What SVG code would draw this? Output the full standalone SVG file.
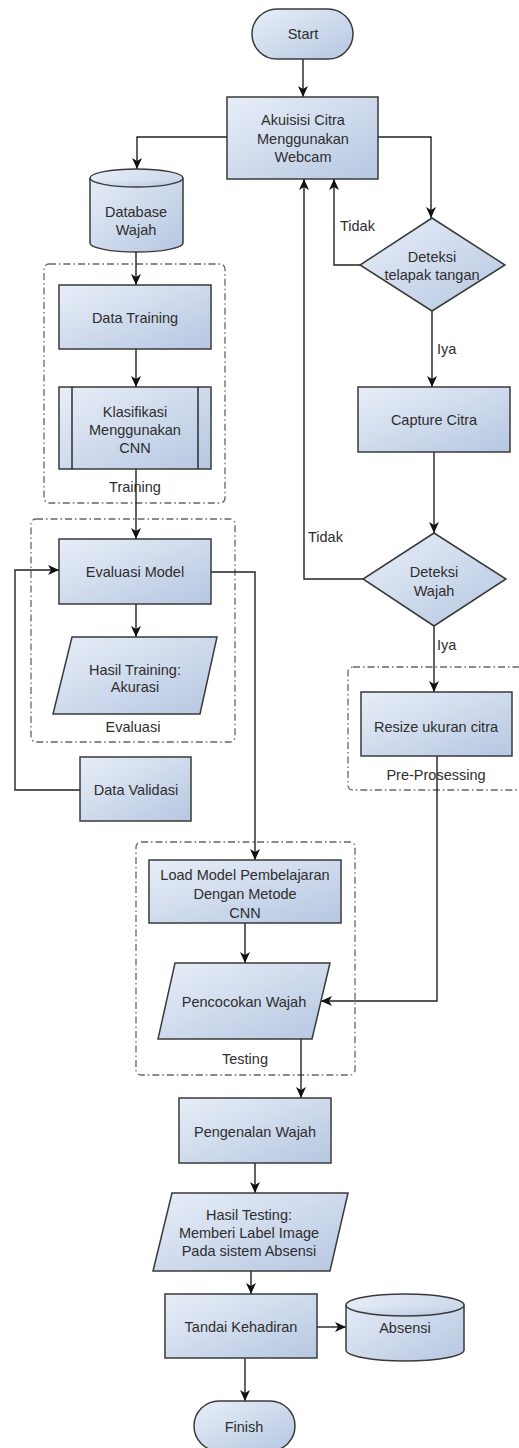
<svg xmlns="http://www.w3.org/2000/svg" width="519" height="1448" viewBox="0 0 519 1448">
<defs>
<linearGradient id="g" x1="0" y1="0" x2="1" y2="1">
<stop offset="0" stop-color="#e8eef8"/>
<stop offset="1" stop-color="#b6c7e1"/>
</linearGradient>
<marker id="arr" markerUnits="userSpaceOnUse" markerWidth="12" markerHeight="10" refX="11" refY="5" orient="auto">
<path d="M0,0 L11,5 L0,10 L3,5 Z" fill="#111"/>
</marker>
<style>
.n{fill:url(#g);stroke:#3a3a3a;stroke-width:1.5}
.grp{fill:none;stroke:#666;stroke-width:1.3;stroke-dasharray:7 3 1.5 3}
.c{fill:none;stroke:#222;stroke-width:1.4;marker-end:url(#arr)}
.cl{fill:none;stroke:#222;stroke-width:1.4}
text{font-family:"Liberation Sans",Arial,sans-serif;font-size:14.5px;fill:#2e2e2e;text-anchor:middle}
.l{text-anchor:start}
</style>
</defs>
<rect width="519" height="1448" fill="#fff"/>

<g id="groups">
<g id="grp-training"><rect class="grp" x="44" y="264" width="181" height="239" rx="5"/><text x="135" y="492">Training</text></g>
<g id="grp-evaluasi"><rect class="grp" x="31" y="519" width="204" height="223" rx="5"/><text x="133" y="732">Evaluasi</text></g>
<g id="grp-preprocessing"><rect class="grp" x="348" y="667" width="185" height="123" rx="5"/><text x="436" y="780">Pre-Prosessing</text></g>
<g id="grp-testing"><rect class="grp" x="136" y="842" width="219" height="233" rx="5"/><text x="245" y="1064">Testing</text></g>
</g>

<g id="connectors">
<path class="c" d="M303,59 V97"/>
<path class="c" d="M227,137 H137 V169"/>
<path class="c" d="M378,137 H431 V218"/>
<path class="c" d="M360,265 H334 V179"/>
<path class="c" d="M432,311 V387"/>
<path class="c" d="M434,452 V533"/>
<path class="c" d="M363,579 H304 V179"/>
<path class="c" d="M434,626 V692"/>
<path class="c" d="M437,756 V1001 H321"/>
<path class="c" d="M136,252 V285"/>
<path class="c" d="M136,349 V387"/>
<path class="c" d="M136,469 V539"/>
<path class="c" d="M136,604 V637"/>
<path class="c" d="M80,790 H15 V570 H59"/>
<path class="c" d="M211,572 H255 V860"/>
<path class="c" d="M245,923 V963"/>
<path class="c" d="M301,1039 V1098"/>
<path class="c" d="M255,1163 V1193"/>
<path class="c" d="M251,1271 V1294"/>
<path class="c" d="M317,1327 H346"/>
<path class="c" d="M245,1358 V1401"/>
<text class="l" x="340" y="231">Tidak</text>
<text class="l" x="437" y="354">Iya</text>
<text class="l" x="308" y="542">Tidak</text>
<text class="l" x="437" y="650">Iya</text>
</g>

<g id="start"><rect class="n" x="252" y="9" width="101" height="50" rx="25"/><text x="303" y="39">Start</text></g>
<g id="akuisisi"><rect class="n" x="227" y="97" width="151" height="82"/><text x="303" y="125">Akuisisi Citra</text><text x="303" y="144">Menggunakan</text><text x="303" y="162">Webcam</text></g>
<g id="database"><path class="n" d="M90,178 A46.5,9 0 0,1 183,178 V243 A46.5,9 0 0,1 90,243 Z"/><path class="n" d="M90,178 A46.5,9 0 0,0 183,178" fill="none"/><text x="136" y="217">Database</text><text x="136" y="235">Wajah</text></g>
<g id="deteksi-telapak"><polygon class="n" points="432,218 505,265 432,311 360,265"/><text x="432" y="262">Deteksi</text><text x="432" y="280">telapak tangan</text></g>
<g id="capture"><rect class="n" x="358" y="387" width="152" height="65"/><text x="434" y="425">Capture Citra</text></g>
<g id="deteksi-wajah"><polygon class="n" points="434,533 506,579 434,626 363,579"/><text x="434" y="577">Deteksi</text><text x="434" y="596">Wajah</text></g>
<g id="resize"><rect class="n" x="361" y="692" width="151" height="64"/><text x="436" y="732">Resize ukuran citra</text></g>
<g id="data-training"><rect class="n" x="59" y="285" width="152" height="64"/><text x="135" y="323">Data Training</text></g>
<g id="klasifikasi"><rect class="n" x="59" y="387" width="152" height="82"/><line class="cl" x1="72" y1="387" x2="72" y2="469" stroke="#3a3a3a"/><line class="cl" x1="198" y1="387" x2="198" y2="469" stroke="#3a3a3a"/><text x="135" y="417">Klasifikasi</text><text x="135" y="435">Menggunakan</text><text x="135" y="453">CNN</text></g>
<g id="evaluasi-model"><rect class="n" x="59" y="539" width="152" height="65"/><text x="135" y="577">Evaluasi Model</text></g>
<g id="hasil-training"><polygon class="n" points="72,637 217,637 200,714 53,714"/><text x="135" y="675">Hasil Training:</text><text x="135" y="692">Akurasi</text></g>
<g id="data-validasi"><rect class="n" x="80" y="757" width="111" height="64"/><text x="136" y="795">Data Validasi</text></g>
<g id="load-model"><rect class="n" x="149" y="860" width="192" height="63"/><text x="245" y="880">Load Model Pembelajaran</text><text x="245" y="899">Dengan Metode</text><text x="245" y="918">CNN</text></g>
<g id="pencocokan"><polygon class="n" points="175,963 330,963 312,1039 158,1039"/><text x="244" y="1007">Pencocokan Wajah</text></g>
<g id="pengenalan"><rect class="n" x="179" y="1098" width="152" height="65"/><text x="255" y="1137">Pengenalan Wajah</text></g>
<g id="hasil-testing"><polygon class="n" points="172,1193 348,1193 330,1271 153,1271"/><text x="249" y="1220">Hasil Testing:</text><text x="249" y="1238">Memberi Label Image</text><text x="249" y="1256">Pada sistem Absensi</text></g>
<g id="tandai"><rect class="n" x="165" y="1294" width="152" height="64"/><text x="241" y="1332">Tandai Kehadiran</text></g>
<g id="absensi"><path class="n" d="M346,1305 A59,11 0 0,1 464,1305 V1350 A59,11 0 0,1 346,1350 Z"/><path class="n" d="M346,1305 A59,11 0 0,0 464,1305" fill="none"/><text x="405" y="1333">Absensi</text></g>
<g id="finish"><rect class="n" x="194" y="1401" width="101" height="50" rx="25"/><text x="244" y="1432">Finish</text></g>
</svg>
